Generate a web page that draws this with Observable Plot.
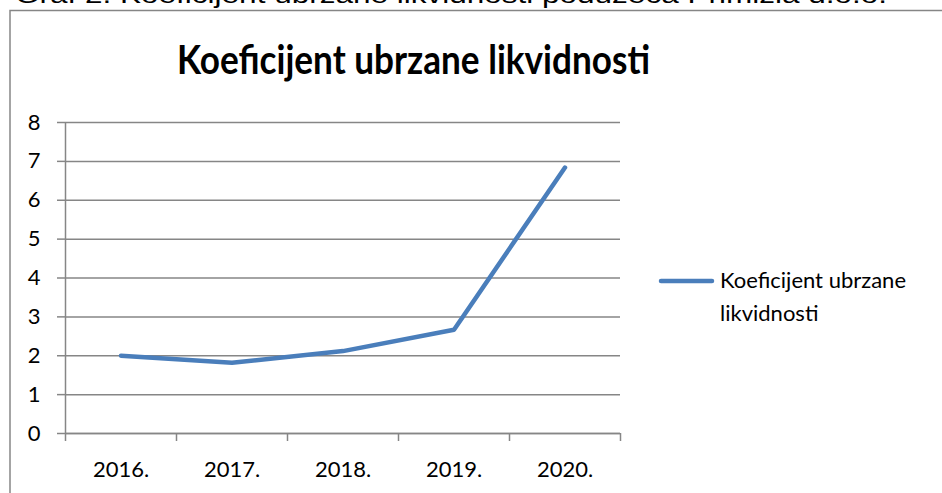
<!DOCTYPE html>
<html>
<head>
<meta charset="utf-8">
<script src="https://cdn.jsdelivr.net/npm/d3@7"></script>
<script src="https://cdn.jsdelivr.net/npm/@observablehq/plot@0.6"></script>
<style>
  html, body { margin: 0; padding: 0; background: #fff; }
  #chart { width: 942px; height: 493px; overflow: hidden; }
</style>
</head>
<body>
<div id="chart"></div>
<script>
const years = [2016, 2017, 2018, 2019, 2020];
const values = [2.0, 1.82, 2.12, 2.67, 6.84];
const yTicks = [0, 1, 2, 3, 4, 5, 6, 7, 8];
const boundaries = [2015.5, 2016.5, 2017.5, 2018.5, 2019.5, 2020.5];
const seriesName = "Koeficijent ubrzane likvidnosti";
const legendLines = ["Koeficijent ubrzane", "likvidnosti"];
const chartTitle = "Koeficijent ubrzane likvidnosti";
const caption = "Graf 2. Koeficijent ubrzane likvidnosti poduzeća Primizia d.o.o.";

const data = years.map((y, i) => ({year: y, value: values[i], series: seriesName}));
const gray = "#868686";
const font = "Lato, 'Open Sans', sans-serif";

const svg = Plot.plot({
  width: 942,
  height: 493,
  marginLeft: 65,
  marginRight: 322,
  marginTop: 122,
  marginBottom: 60,
  x: {domain: [2015.5, 2020.5], label: null},
  y: {domain: [0, 8], label: null},
  style: {fontFamily: font, fontSize: "22px", color: "#000", background: "#fff"},
  marks: [
    Plot.gridY(yTicks, {stroke: gray, strokeOpacity: 1, strokeWidth: 1.5}),
    Plot.axisY(yTicks, {tickSize: 8, tickPadding: 17, stroke: gray, strokeWidth: 1.5, strokeOpacity: 1, tickFormat: d => String(d), fontSize: 22, fill: "#000", label: null}),
    Plot.ruleX([2015.5], {y1: 0, y2: 8, stroke: gray, strokeWidth: 1.5}),
    Plot.ruleY([0], {stroke: gray, strokeWidth: 1.5}),
    Plot.axisX(boundaries, {tickSize: 8, stroke: gray, strokeWidth: 1.5, strokeOpacity: 1, tickFormat: () => "", label: null}),
    Plot.axisX(years, {tickSize: 0, tickPadding: 28, tickFormat: d => `${d}.`, fontSize: 22, fill: "#000", label: null}),
    Plot.line(data, {x: "year", y: "value", stroke: "#4a7ebb", strokeWidth: 4.5, strokeLinecap: "round", strokeLinejoin: "round"})
  ]
});

const s = d3.select(svg);
// outer chart border
s.append("rect")
  .attr("x", 10).attr("y", 10.5)
  .attr("width", 1000).attr("height", 600)
  .attr("fill", "none").attr("stroke", gray).attr("stroke-width", 1.5);
// cut-off caption at top
s.append("text")
  .attr("x", 15).attr("y", 3)
  .attr("text-anchor", "start")
  .attr("font-family", "'Liberation Sans', Arial, sans-serif")
  .attr("font-size", 24)
  .attr("textLength", 872).attr("lengthAdjust", "spacingAndGlyphs")
  .attr("fill", "#000")
  .text(caption);
// chart title
s.append("text")
  .attr("x", 177).attr("y", 74)
  .attr("text-anchor", "start")
  .attr("font-family", font)
  .attr("font-weight", "bold")
  .attr("font-size", 41)
  .attr("textLength", 473).attr("lengthAdjust", "spacingAndGlyphs")
  .attr("fill", "#000")
  .text(chartTitle);
// legend
s.append("line")
  .attr("x1", 661).attr("x2", 712).attr("y1", 281).attr("y2", 281)
  .attr("stroke", "#4a7ebb").attr("stroke-width", 4.5).attr("stroke-linecap", "round");
const lt = s.append("text")
  .attr("text-anchor", "start")
  .attr("font-family", font)
  .attr("font-size", 22)
  .attr("fill", "#000");
legendLines.forEach((t, i) => {
  lt.append("tspan").attr("x", 720).attr("y", 288 + i * 33).text(t);
});

document.getElementById("chart").appendChild(svg);
</script>
</body>
</html>
